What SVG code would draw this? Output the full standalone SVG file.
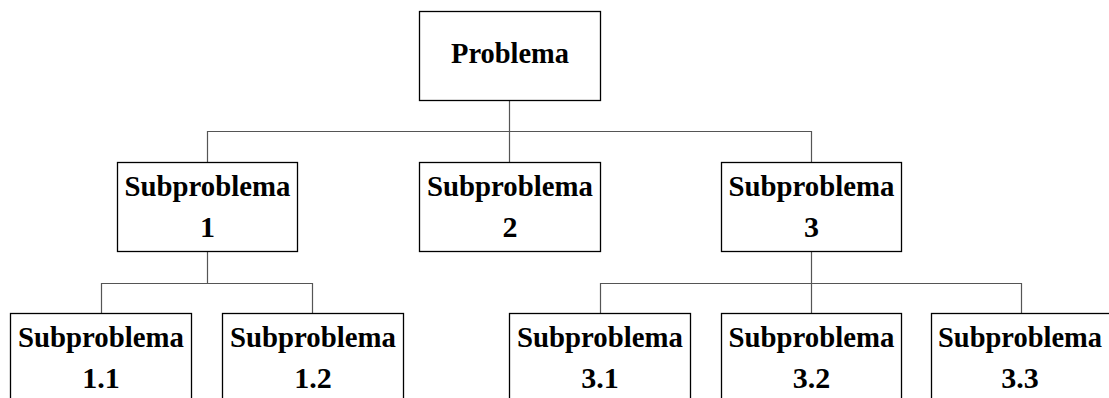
<svg xmlns="http://www.w3.org/2000/svg" width="1109" height="398" viewBox="0 0 1109 398">
  <style>
    .box { fill: #ffffff; stroke: #000000; stroke-width: 1.3; }
    .lbl { font-family: "Liberation Serif", "Times New Roman", serif; font-weight: bold; font-size: 30px; fill: #000000; text-anchor: middle; }
    .conn { fill: none; stroke: #555555; stroke-width: 1.2; }
  </style>
  <rect width="1109" height="398" fill="#ffffff"/>

  <!-- connectors -->
  <g id="connectors" class="conn">
    <path d="M509.5 100.5 V131.5 M207.5 162 V131.5 H811.5 V162 M509.5 131.5 V162"/>
    <path d="M207.5 251 V283.5 M101.5 313 V283.5 H312.5 V313"/>
    <path d="M811.5 251 V283.5 M600.5 313 V283.5 H1021.5 V313 M811.5 283.5 V313"/>
  </g>

  <g id="problema">
    <rect class="box" x="419.5" y="11.5" width="181" height="89"/>
    <text class="lbl" x="510" y="63" textLength="118" lengthAdjust="spacingAndGlyphs">Problema</text>
  </g>

  <g id="sub1">
    <rect class="box" x="117.5" y="162.5" width="180" height="89"/>
    <text class="lbl" x="207.5" y="196" textLength="166" lengthAdjust="spacingAndGlyphs">Subproblema</text>
    <text class="lbl" x="207.5" y="237">1</text>
  </g>

  <g id="sub2">
    <rect class="box" x="419.5" y="162.5" width="181" height="89"/>
    <text class="lbl" x="510" y="196" textLength="166" lengthAdjust="spacingAndGlyphs">Subproblema</text>
    <text class="lbl" x="510" y="237">2</text>
  </g>

  <g id="sub3">
    <rect class="box" x="721.5" y="162.5" width="180" height="89"/>
    <text class="lbl" x="811.5" y="196" textLength="166" lengthAdjust="spacingAndGlyphs">Subproblema</text>
    <text class="lbl" x="811.5" y="237">3</text>
  </g>

  <g id="sub1-1">
    <rect class="box" x="10.5" y="313.5" width="181" height="89"/>
    <text class="lbl" x="101" y="347" textLength="166" lengthAdjust="spacingAndGlyphs">Subproblema</text>
    <text class="lbl" x="101" y="388">1.1</text>
  </g>

  <g id="sub1-2">
    <rect class="box" x="222.5" y="313.5" width="181" height="89"/>
    <text class="lbl" x="313" y="347" textLength="166" lengthAdjust="spacingAndGlyphs">Subproblema</text>
    <text class="lbl" x="313" y="388">1.2</text>
  </g>

  <g id="sub3-1">
    <rect class="box" x="509.5" y="313.5" width="181" height="89"/>
    <text class="lbl" x="600" y="347" textLength="166" lengthAdjust="spacingAndGlyphs">Subproblema</text>
    <text class="lbl" x="600" y="388">3.1</text>
  </g>

  <g id="sub3-2">
    <rect class="box" x="721.5" y="313.5" width="180" height="89"/>
    <text class="lbl" x="811.5" y="347" textLength="166" lengthAdjust="spacingAndGlyphs">Subproblema</text>
    <text class="lbl" x="811.5" y="388">3.2</text>
  </g>

  <g id="sub3-3">
    <rect class="box" x="931.5" y="313.5" width="181" height="89"/>
    <text class="lbl" x="1020" y="347" textLength="164" lengthAdjust="spacingAndGlyphs">Subproblema</text>
    <text class="lbl" x="1020" y="388">3.3</text>
  </g>
</svg>
